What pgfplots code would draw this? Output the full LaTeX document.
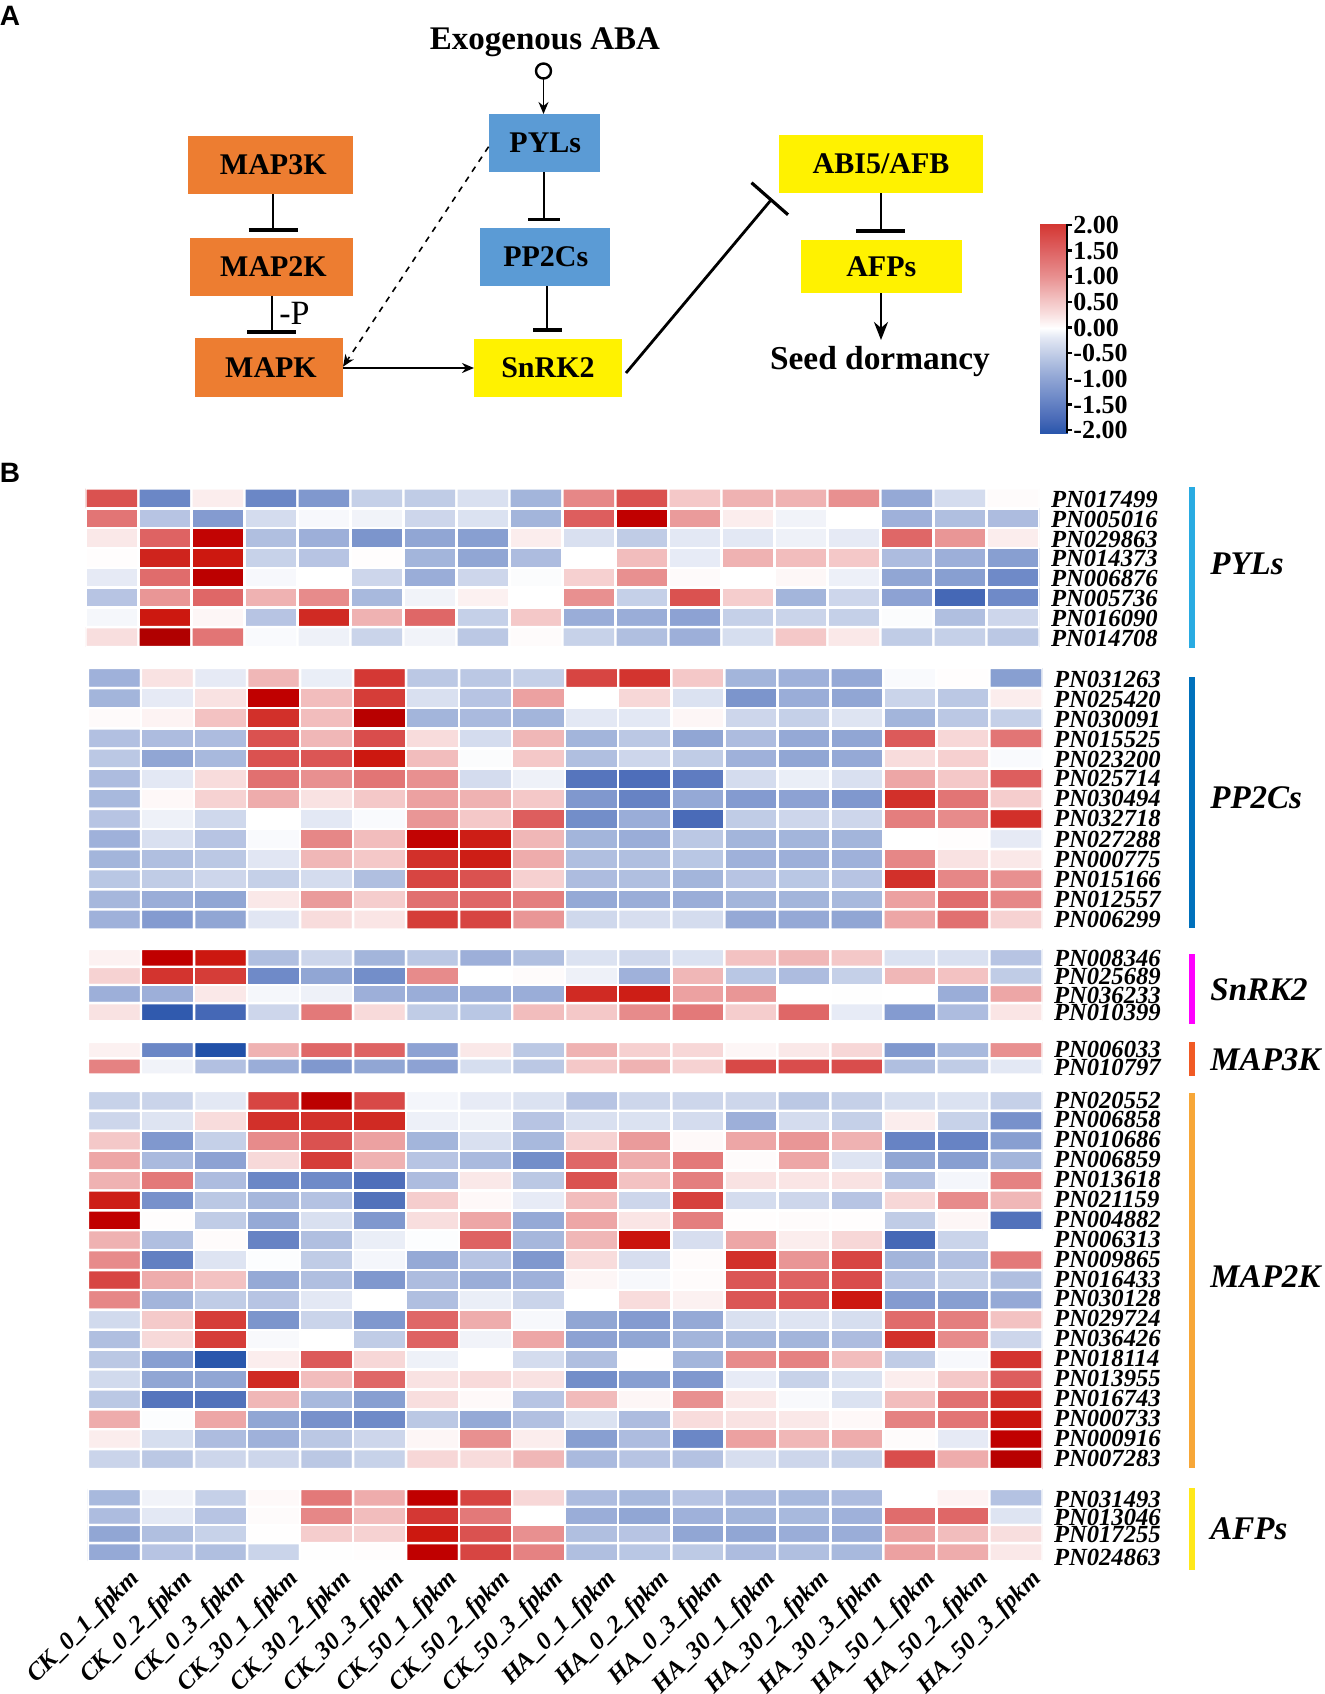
\documentclass[border=0pt]{standalone}
\usepackage{pgfplots}
\pgfplotsset{compat=1.18}
\usepackage{fontspec}
\setmainfont{Liberation Serif}
\newfontfamily\arialb{Liberation Sans}[Scale=1]
\usetikzlibrary{arrows.meta}
\newcommand\fs[1]{\fontsize{#1}{#1}\selectfont}
\newcommand\pn{\fs{12.3}\bfseries\itshape}
\definecolor{orbox}{HTML}{ED7D31}
\definecolor{blbox}{HTML}{5B9BD5}
\pgfplotsset{
  colormap={rb}{
    rgb255(50pt)=(32,80,168) rgb255(90pt)=(74,107,184) rgb255(130pt)=(107,135,198)
    rgb255(180pt)=(149,169,214) rgb255(230pt)=(197,208,232) rgb255(260pt)=(227,232,244)
    rgb255(280pt)=(255,255,255) rgb255(310pt)=(248,220,220) rgb255(330pt)=(244,200,200)
    rgb255(380pt)=(232,144,144) rgb255(440pt)=(220,90,90) rgb255(490pt)=(210,48,42)
    rgb255(510pt)=(204,24,16) rgb255(540pt)=(192,0,0) rgb255(560pt)=(176,0,0)
  },
  hm/.style={scale only axis, anchor=north west, enlargelimits=false,
    xmin=-0.5, xmax=17.5, ymin=-0.5, y dir=reverse,
    width=954.5*0.5pt, axis line style={draw=none}, tick style={draw=none},
    xtick=\empty, yticklabel pos=right, major tick length=0pt,
    yticklabel style={font=\pn, inner sep=0pt, xshift=5.6pt},
    point meta min=-2.3, point meta max=2.8, colormap name=rb},
  cell/.style={matrix plot, mesh/cols=18, point meta=explicit, draw=white, line width=1.2pt},
  table/tb/.style={header=false, row sep=crcr, x expr={mod(\coordindex,18)}, y expr={floor((\coordindex+0.5)/18)}, meta index=0},
}
\begin{document}
\begin{tikzpicture}
\begin{scope}[x=0.5pt,y=-0.5pt]
% panel letters
\node[anchor=center,font=\arialb\fs{14}\bfseries] at (10,16) {A};
\node[anchor=center,font=\arialb\fs{14}\bfseries] at (10,473) {B};
% boxes
\foreach \a/\b/\c/\d/\col/\t/\dx in {187.6/136/353/193.7/orbox/MAP3K/3, 190/238/353/295.7/orbox/MAP2K/2, 195/338/343/397/orbox/MAPK/2,
  488.6/114/600/172/blbox/PYLs/1, 480/228/609.5/286/blbox/PP2Cs/1, 474/339/622/397/yellow/SnRK2/0,
  779/135/983/192.7/yellow/ABI5\slash AFB/0, 800.5/240/962/293/yellow/AFPs/0}
  {\fill[\col] (\a,\b) rectangle (\c,\d);
   \node[font=\fs{15}\bfseries] at ({(\a+\c)/2+\dx},{(\b+\d)/2}) {\t};}
\node[font=\fs{16.5}\bfseries] at (545,42) {Exogenous ABA};
\node[font=\fs{16.7}\bfseries] at (880,362) {Seed dormancy};
\node[font=\fs{17}] at (294.5,313) {-P};
% connectors
\draw[line width=1.2pt] (543.5,71) circle (7.5);
\draw[line width=0.8pt,-{Stealth[length=6pt,width=5pt]}] (543.5,78.5) -- (543.5,114);
\draw[line width=1pt] (273,194) -- (273,230);
\draw[line width=1.6pt] (248.5,230) -- (297.5,230);
\draw[line width=1pt] (271.5,296) -- (271.5,332);
\draw[line width=1.6pt] (247,332) -- (296,332);
\draw[line width=1pt] (543.5,172) -- (543.5,219.5);
\draw[line width=1.6pt] (528,219.5) -- (560,219.5);
\draw[line width=1pt] (547,286) -- (547,330);
\draw[line width=1.6pt] (533,330) -- (562,330);
\draw[line width=1pt,-{Stealth[length=6pt,width=5pt]}] (343,368) -- (474,368);
\draw[line width=0.8pt,dashed,-{Stealth[length=6pt,width=5pt]}] (488.6,146.7) -- (343,366.7);
\draw[line width=1.4pt] (626,373) -- (771,200);
\draw[line width=1.6pt] (751.5,182.7) -- (788,214.7);
\draw[line width=1pt] (881,193) -- (881,231);
\draw[line width=1.6pt] (856,231) -- (905,231);
\draw[line width=1.4pt,-{Stealth[length=9pt,width=7pt]}] (881,293) -- (881,340);
% side bars and group names
\foreach \t/\b/\col in {486.7/648/29ABE2, 676.7/928/0071BC, 954/1024/FF00FF, 1042/1076/F15A24, 1093/1468/F7A738, 1488/1570/FFE81A}
  {\definecolor{barc}{HTML}{\col}\fill[barc] (1189,\t) rectangle (1195,\b);}
\foreach \y/\t in {564/PYLs, 798/PP2Cs, 989.5/SnRK2, 1060/MAP3K, 1277/MAP2K, 1529/AFPs}
  \node[anchor=west,inner sep=0pt,font=\fs{16.5}\bfseries\itshape] at (1210,\y) {\t};
\end{scope}

% PYLs
\begin{axis}[hm, at={(85.5*0.5pt,-488.5*0.5pt)}, height=158.5*0.5pt, ymax=7.5, ytick={0,...,7},
  width=954*0.5pt, yticklabel style={yshift=-0.5pt},
  yticklabels={PN017499,PN005016,PN029863,PN014373,PN006876,PN005736,PN016090,PN014708}]
\addplot[cell] table[tb]{
1.7\\-1.5\\.15\\-1.5\\-1.25\\-.5\\-.55\\-.3\\-.85\\1.1\\1.7\\.5\\.7\\.7\\1\\-1\\-.35\\.03\\
1.3\\-.65\\-1.2\\-.35\\-.06\\-.1\\-.42\\-.28\\-.85\\1.55\\2.6\\.9\\.15\\-.1\\0\\-.9\\-.72\\-.75\\
.2\\1.5\\2.55\\-.72\\-.92\\-1.3\\-1.05\\-1.15\\.15\\-.3\\-.55\\-.2\\-.2\\-.12\\-.18\\1.45\\.95\\.15\\
.02\\2.2\\2.3\\-.48\\-.65\\.02\\-.85\\-1.05\\-.75\\0\\.6\\-.17\\.7\\.6\\.5\\-.75\\-.92\\-1.15\\
-.18\\1.4\\2.65\\-.06\\0\\-.42\\-.95\\-.42\\-.03\\.42\\1\\.04\\0\\.07\\-.13\\-1.05\\-1.15\\-1.45\\
-.65\\.95\\1.45\\.7\\1.05\\-.8\\-.1\\.12\\0\\1\\-.5\\1.7\\.45\\-.85\\-.42\\-1.1\\-1.95\\-1.45\\
-.07\\2.3\\.08\\-.65\\2.15\\.7\\1.45\\-.5\\.5\\-.95\\-.95\\-1.1\\-.5\\-.45\\-.5\\-.03\\-.72\\-.42\\
.28\\2.8\\1.3\\-.04\\-.12\\-.45\\-.1\\-.6\\.03\\-.48\\-.72\\-.92\\-.33\\.5\\.2\\-.55\\-.5\\-.6\\
};
\end{axis}
% PP2Cs
\begin{axis}[hm, at={(88*0.5pt,-668*0.5pt)}, height=261.6*0.5pt, ymax=12.5, ytick={0.05,1.05,2.05,3.05,4.05,5,6,7,8,9,10,11,12},
  yticklabels={PN031263,PN025420,PN030091,PN015525,PN023200,PN025714,PN030494,PN032718,PN027288,PN000775,PN015166,PN012557,PN006299}]
\addplot[cell] table[tb]{
-.9\\.25\\-.18\\.65\\-.15\\2\\-.6\\-.6\\-.5\\1.85\\2.05\\.5\\-.85\\-.9\\-1\\-.04\\.02\\-1.15\\
-.85\\-.18\\.25\\2.6\\.6\\1.95\\-.3\\-.65\\.85\\0\\.35\\-.28\\-1.3\\-.95\\-1.05\\-.45\\-.6\\.15\\
.04\\.1\\.55\\2.1\\.6\\2.7\\-.85\\-.78\\-.85\\-.2\\-.2\\.08\\-.42\\-.5\\-.25\\-.85\\-.6\\-.5\\
-.7\\-.75\\-.75\\1.7\\.65\\1.75\\.3\\-.35\\.65\\-.85\\-.6\\-1.05\\-.75\\-1\\-1.05\\1.6\\.35\\1.3\\
-.6\\-1.05\\-.8\\1.7\\1.65\\2.3\\.6\\-.03\\.5\\-.72\\-.42\\-.55\\-.9\\-1.05\\-1\\.3\\.42\\-.04\\
-.75\\-.2\\.3\\1.35\\1\\1.3\\1\\-.35\\-.12\\-1.75\\-1.85\\-1.65\\-.35\\-.15\\-.3\\.8\\.5\\1.55\\
-.8\\.06\\.4\\.75\\.25\\.5\\.85\\.7\\.5\\-1.25\\-1.55\\-1\\-1.2\\-1.1\\-1.25\\2.1\\1.3\\.45\\
-.65\\-.12\\-.4\\0\\-.2\\-.04\\.95\\.5\\1.55\\-1.4\\-.95\\-1.9\\-.55\\-.42\\-.42\\1.2\\1.05\\2.1\\
-.9\\-.3\\-.65\\-.04\\1.1\\.6\\2.55\\2.25\\.65\\-.85\\-.95\\-.6\\-.85\\-.85\\-.85\\0\\.02\\-.18\\
-.85\\-.72\\-.6\\-.22\\.65\\.5\\2.1\\2.25\\.75\\-.72\\-.72\\-.62\\-.9\\-.92\\-.9\\1.1\\.25\\.2\\
-.62\\-.55\\-.42\\-.5\\-.35\\-.72\\1.85\\1.7\\.42\\-.75\\-.72\\-.85\\-.65\\-.62\\-.65\\2.1\\1.1\\1\\
-.82\\-.95\\-1.05\\.2\\.9\\.45\\1.35\\1.45\\1.2\\-1\\-.95\\-.95\\-.85\\-.85\\-.8\\.85\\1.4\\1.1\\
-.9\\-1.2\\-1.05\\-.22\\.3\\.22\\1.95\\1.85\\.95\\-.4\\-.32\\-.35\\-1\\-1\\-1.05\\.8\\1.35\\.4\\
};
\end{axis}
% SnRK2
\begin{axis}[hm, at={(88*0.5pt,-948.8*0.5pt)}, height=72.4*0.5pt, ymax=3.5, ytick={0.05,1.05,2.05,3},
  yticklabels={PN008346,PN025689,PN036233,PN010399}]
\addplot[cell] table[tb]{
.12\\2.6\\2.3\\-.72\\-.42\\-.85\\-.6\\-.92\\-.72\\-.28\\-.4\\-.28\\.55\\.65\\.5\\-.28\\-.3\\-.65\\
.4\\2.05\\1.95\\-1.45\\-1.05\\-1.4\\1.05\\0\\.03\\-.12\\-.9\\.65\\-.62\\-.75\\-.5\\.65\\.55\\-.55\\
-.92\\-.92\\.2\\-.07\\-.12\\-.92\\-.95\\-.95\\-.95\\2.15\\2.25\\.85\\.95\\0\\-.01\\0\\-.95\\.8\\
.25\\-2.15\\-1.95\\-.42\\1.25\\.32\\-.55\\-.62\\.6\\.5\\1.05\\1.25\\.45\\1.45\\-.17\\-1.2\\-.75\\.22\\
};
\end{axis}
% MAP3K
\begin{axis}[hm, at={(88*0.5pt,-1042*0.5pt)}, height=32.6*0.5pt, ymax=1.5, ytick={-0.05,1.05},
  yticklabels={PN006033,PN010797}]
\addplot[cell] table[tb]{
.12\\-1.5\\-2.3\\.7\\1.45\\1.5\\-1.1\\.2\\-.6\\.7\\.42\\.35\\.08\\.2\\.35\\-1.25\\-.8\\1\\
1.15\\-.1\\-.7\\-.95\\-1.25\\-1.05\\-1.1\\-.33\\-.6\\.5\\.7\\.4\\1.8\\1.75\\1.75\\-.72\\-.55\\-.2\\
};
\end{axis}
% MAP2K
\begin{axis}[hm, at={(88*0.5pt,-1091*0.5pt)}, height=378*0.5pt, ymax=18.5, ytick={0,...,18},
  yticklabel style={yshift=0.5pt},
  yticklabels={PN020552,PN006858,PN010686,PN006859,PN013618,PN021159,PN004882,PN006313,PN009865,PN016433,PN030128,PN029724,PN036426,PN018114,PN013955,PN016743,PN000733,PN000916,PN007283}]
\addplot[cell] table[tb]{
-.48\\-.45\\-.2\\1.85\\2.65\\1.8\\-.08\\-.17\\-.28\\-.65\\-.42\\-.42\\-.42\\-.6\\-.5\\-.33\\-.28\\-.5\\
-.42\\-.25\\.3\\2.1\\2.1\\2.15\\-.13\\-.1\\-.65\\-.3\\-.28\\-.35\\-.92\\-.35\\-.5\\.15\\-.48\\-1.35\\
.5\\-1.25\\-.5\\1.05\\1.7\\.85\\-.85\\-.3\\-.8\\.4\\.9\\.05\\.8\\.95\\.7\\-1.55\\-1.55\\-1.15\\
.8\\-.78\\-1.1\\.33\\1.95\\.7\\-.65\\-.78\\-1.4\\1.45\\.75\\1.25\\.03\\.8\\-.25\\-1.05\\-1.15\\-.85\\
.7\\1.25\\-.75\\-1.5\\-1.45\\-1.85\\-.75\\.2\\-.6\\1.7\\.55\\1.2\\.25\\.22\\.25\\-.7\\-.08\\1.15\\
2.25\\-1.35\\-.6\\-.82\\-.68\\-1.8\\.45\\.06\\-.17\\.6\\-.42\\1.9\\-.35\\-.42\\-.65\\.35\\1.05\\.65\\
2.6\\.02\\-.55\\-1\\-.3\\-1.25\\.28\\.8\\-1\\.8\\.22\\1.2\\.02\\.03\\.02\\-.55\\.08\\-1.8\\
.7\\-.72\\.03\\-1.55\\-.72\\-.15\\-.02\\1.5\\-.82\\.65\\2.35\\-.32\\.8\\.15\\.35\\-1.95\\-.45\\0\\
1.05\\-1.6\\-.25\\-.02\\-.55\\-.08\\-1\\-.65\\-1.25\\.3\\-.32\\.03\\2.1\\.95\\1.85\\-.85\\-.7\\1.25\\
1.85\\.75\\.55\\-1\\-.72\\-1.25\\-.75\\-.95\\-.9\\.08\\-.06\\.03\\1.65\\1.5\\1.75\\-.65\\-.5\\-.72\\
1.1\\-.85\\-.55\\-.65\\-.2\\0\\-.72\\-.15\\-.45\\0\\.3\\.12\\1.65\\1.65\\2.3\\-1.2\\-1.15\\-1\\
-.38\\.48\\1.95\\-1.3\\-.45\\-1.25\\1.45\\.75\\-.06\\-1.05\\-1.2\\-1\\-.3\\-.25\\-.33\\1.4\\1.2\\.55\\
-.72\\.33\\1.95\\-.05\\0\\-.55\\1.5\\-.1\\.8\\-1.1\\-1.05\\-.85\\-.85\\-.85\\-.75\\2.1\\1.05\\-.42\\
-.6\\-1.15\\-2.2\\.15\\1.6\\.35\\-.12\\0\\-.35\\-.72\\.01\\-.85\\1.05\\1.15\\.6\\-.55\\-.06\\2.05\\
-.38\\-1.05\\-1.05\\2.15\\.6\\1.45\\.25\\.32\\.25\\-1.4\\-1.15\\-1.25\\-.17\\-.48\\-.28\\.15\\.5\\1.55\\
-.6\\-1.75\\-1.8\\.65\\-.8\\-1.15\\.28\\.05\\-.65\\.62\\.08\\1\\.2\\-.05\\-.28\\.6\\1.35\\2.1\\
.75\\-.02\\.8\\-1.05\\-1.35\\-1.45\\-.6\\-1\\-.7\\-.28\\-.75\\.3\\.25\\.2\\.06\\1.15\\1.3\\2.35\\
.15\\-.33\\-.75\\-.9\\-.6\\-.42\\.08\\1\\.15\\-1.15\\-.75\\-1.5\\.85\\.65\\.75\\.03\\-.18\\2.6\\
-.45\\-.6\\-.42\\-.42\\-.6\\-.48\\.35\\.3\\.65\\-.78\\-.65\\-.68\\-.32\\-.42\\-.48\\1.75\\.75\\2.7\\
};
\end{axis}
% AFPs
\begin{axis}[hm, at={(88*0.5pt,-1488.8*0.5pt)}, height=72.4*0.5pt, ymax=3.5, ytick={0,1,1.95,3.2},
  yticklabel style={yshift=-0.8pt},
  yticklabels={PN031493,PN013046,PN017255,PN024863},
  xtick={0,...,17},
  xticklabels={CK\_0\_1\_fpkm,CK\_0\_2\_fpkm,CK\_0\_3\_fpkm,CK\_30\_1\_fpkm,CK\_30\_2\_fpkm,CK\_30\_3\_fpkm,CK\_50\_1\_fpkm,CK\_50\_2\_fpkm,CK\_50\_3\_fpkm,HA\_0\_1\_fpkm,HA\_0\_2\_fpkm,HA\_0\_3\_fpkm,HA\_30\_1\_fpkm,HA\_30\_2\_fpkm,HA\_30\_3\_fpkm,HA\_50\_1\_fpkm,HA\_50\_2\_fpkm,HA\_50\_3\_fpkm},
  xticklabel style={font=\fs{12.4}\bfseries\itshape, rotate=45, anchor=north east, inner sep=0pt, xshift=2.8pt, yshift=-6.7pt}]
\addplot[cell] table[tb]{
-.8\\-.1\\-.5\\.05\\1.25\\.75\\2.6\\1.85\\.35\\-.75\\-.8\\-.65\\-.75\\-.8\\-.75\\0\\.1\\-.68\\
-.75\\-.2\\-.65\\.03\\1.1\\.6\\2\\1.25\\0\\-.95\\-1.05\\-.9\\-.85\\-.8\\-.9\\1.4\\1.45\\-.25\\
-1.05\\-.72\\-.48\\.01\\.45\\.4\\2.3\\1.7\\1\\-.72\\-.65\\-1.05\\-1.05\\-.95\\-.95\\.85\\.6\\.28\\
-1\\-.65\\-.72\\-.45\\-.01\\.02\\2.6\\1.85\\1.15\\-.72\\-.62\\-.58\\-.75\\-.72\\-.8\\.85\\.75\\.2\\
};
\end{axis}
% colour scale
\begin{axis}[scale only axis, anchor=north west, at={(1040*0.5pt,-224.3*0.5pt)}, width=27*0.5pt, height=209*0.5pt,
  enlargelimits=false, xmin=0, xmax=1, ymin=-2.06, ymax=2.014, axis x line=none, axis y line*=right, axis on top,
  axis line style={line width=1.4pt}, ytick={-2,-1.5,...,2},
  yticklabels={-2.00,-1.50,-1.00,-0.50,0.00,0.50,1.00,1.50,2.00},
  yticklabel style={font=\fs{13}\bfseries, inner sep=0pt, anchor=west, xshift=0.5pt},
  tick style={line width=1.2pt, black}, major tick length=2.5pt, tick align=outside,
  point meta min=-2.3, point meta max=2.8, colormap name=rb]
\addplot[surf, shader=interp, mesh/cols=2, point meta=explicit] table[meta=z]{
x y z
0 -2.1 -2.25
1 -2.1 -2.25
0 0 0
1 0 0
0 2.1 2.1
1 2.1 2.1
};
\end{axis}
\pgfresetboundingbox
\path[use as bounding box] (0pt,0pt) rectangle (662.5pt,-847pt);
\end{tikzpicture}
\end{document}
